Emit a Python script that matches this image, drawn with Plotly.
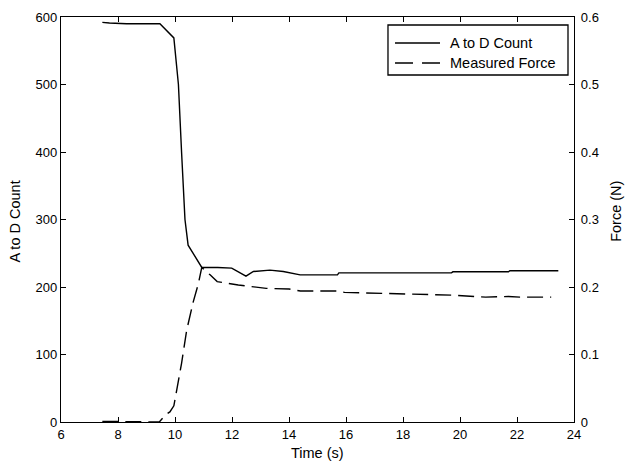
import plotly.graph_objects as go

# A to D count series
time_count = [7.45, 7.7, 8.3, 9.47, 9.96, 10.12, 10.23, 10.35, 10.46, 10.7, 10.94, 11.5,
              11.99, 12.49, 12.75, 13.33, 13.8, 14.39, 15.7, 15.75, 19.7, 19.75, 21.7, 21.75, 23.45]
count = [592, 591, 590, 590, 569, 500, 400, 300, 262, 245, 229, 229,
         228, 216, 223, 225, 223, 218, 218, 221, 221, 222.5, 222.5, 224, 224]

# Measured force series
time_force = [7.45, 8.3, 9.0, 9.45, 9.65, 9.82, 9.96, 10.23, 10.41, 10.64, 10.82, 10.94,
              11.23, 11.48, 12.22, 12.5, 13.2, 14.0, 14.4, 15.7, 15.95, 19.7, 20.9, 21.7, 22.1, 23.2]
force = [0.001, 0.001, 0.001, 0.0, 0.010, 0.015, 0.024, 0.087, 0.136, 0.178, 0.205, 0.229,
         0.218, 0.208, 0.203, 0.2015, 0.198, 0.197, 0.194, 0.194, 0.192, 0.188, 0.185, 0.186, 0.185, 0.185]

series_names = ["A to D Count", "Measured Force"]
x_ticks = [6, 8, 10, 12, 14, 16, 18, 20, 22, 24]
y1_ticks = [0, 100, 200, 300, 400, 500, 600]
y2_ticks = [0, 0.1, 0.2, 0.3, 0.4, 0.5, 0.6]
y2_labels = ["0", "0.1", "0.2", "0.3", "0.4", "0.5", "0.6"]

FONT = "Liberation Sans, Arial, sans-serif"
TICK_SIZE = 13
TITLE_SIZE = 14.5
DASH = "16px,7px"

fig = go.Figure()
fig.add_trace(go.Scatter(x=time_count, y=count, mode="lines", name=series_names[0],
                         line=dict(color="black", width=1.4), yaxis="y"))
fig.add_trace(go.Scatter(x=time_force, y=force, mode="lines", name=series_names[1],
                         line=dict(color="black", width=1.4, dash=DASH), yaxis="y2"))

axis_common = dict(showgrid=False, zeroline=False, showline=True, linecolor="black",
                   linewidth=1.4, ticks="inside", ticklen=5, tickcolor="black", tickwidth=1.4,
                   automargin=False,
                   tickfont=dict(family=FONT, size=TICK_SIZE, color="black"))

# legend box drawn in paper coordinates (box, sample lines, labels)
lg_x0, lg_x1, lg_y0, lg_y1 = 0.6374, 0.9883, 0.8568, 0.9802
ln_x0, ln_x1 = 0.6511, 0.7388
row_y = [0.9358, 0.8864]
txt_x = 0.7544

shapes = [
    dict(type="rect", xref="paper", yref="paper", x0=lg_x0, x1=lg_x1, y0=lg_y0, y1=lg_y1,
         line=dict(color="black", width=1.3), fillcolor="white", layer="above"),
    dict(type="line", xref="paper", yref="paper", x0=ln_x0, x1=ln_x1, y0=row_y[0], y1=row_y[0],
         line=dict(color="black", width=1.4), layer="above"),
    dict(type="line", xref="paper", yref="paper", x0=ln_x0, x1=ln_x1, y0=row_y[1], y1=row_y[1],
         line=dict(color="black", width=1.4, dash="18px,9px"), layer="above"),
]

annotations = [
    dict(text="Time (s)", xref="paper", yref="paper", x=0.5, y=0, yshift=-31,
         xanchor="center", yanchor="middle", showarrow=False,
         font=dict(family=FONT, size=TITLE_SIZE, color="black")),
    dict(text="A to D Count", xref="paper", yref="paper", x=0, y=0.495, xshift=-46,
         xanchor="center", yanchor="middle", textangle=-90, showarrow=False,
         font=dict(family=FONT, size=TITLE_SIZE, color="black")),
    dict(text="Force (N)", xref="paper", yref="paper", x=1, y=0.519, xshift=42,
         xanchor="center", yanchor="middle", textangle=-90, showarrow=False,
         font=dict(family=FONT, size=TITLE_SIZE, color="black")),
]
for name, yy in zip(series_names, row_y):
    annotations.append(dict(text=name, xref="paper", yref="paper", x=txt_x, y=yy,
                            xanchor="left", yanchor="middle", showarrow=False,
                            font=dict(family=FONT, size=TITLE_SIZE, color="black")))

fig.update_layout(
    width=628, height=463,
    margin=dict(l=61, r=54, t=17, b=41),
    paper_bgcolor="white", plot_bgcolor="white",
    font=dict(family=FONT, color="black"),
    xaxis=dict(range=[6, 24], tickvals=x_ticks, mirror="ticks", **axis_common),
    yaxis=dict(range=[0, 600], tickvals=y1_ticks, **axis_common),
    yaxis2=dict(range=[0, 0.6], tickvals=y2_ticks, ticktext=y2_labels, overlaying="y", side="right",
                ticklabelstandoff=3, **axis_common),
    showlegend=False,
    hovermode=False,
    shapes=shapes,
    annotations=annotations,
)

fig.write_html("out.html", config={"displayModeBar": False},
               post_script="document.body.style.margin='0';document.body.style.overflow='hidden';")
